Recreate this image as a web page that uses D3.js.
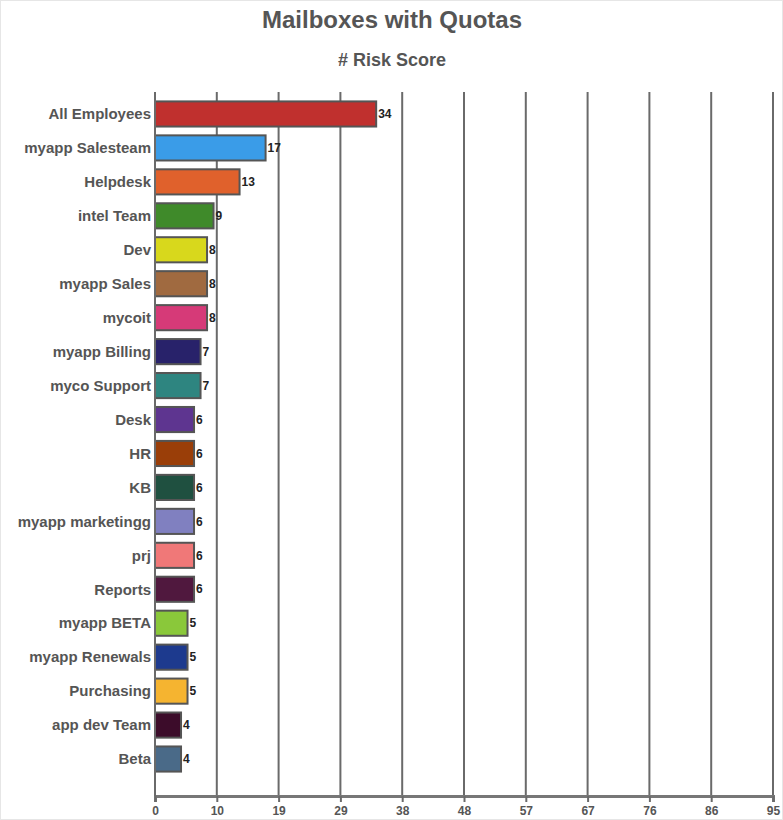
<!DOCTYPE html>
<html>
<head>
<meta charset="utf-8">
<script src="https://cdn.jsdelivr.net/npm/d3@7"></script>
<style>
  body { margin: 0; background: #fff; }
  svg text { font-family: "Liberation Sans", Arial, sans-serif; font-weight: bold; }
</style>
</head>
<body>
<div id="chart"></div>
<script>
var categories = ["All Employees", "myapp Salesteam", "Helpdesk", "intel Team", "Dev", "myapp Sales",
  "mycoit", "myapp Billing", "myco Support", "Desk", "HR", "KB", "myapp marketingg", "prj",
  "Reports", "myapp BETA", "myapp Renewals", "Purchasing", "app dev Team", "Beta"]
var scores = [34, 17, 13, 9, 8, 8, 8, 7, 7, 6, 6, 6, 6, 6, 6, 5, 5, 5, 4, 4]
var barColors = ["#c0302e", "#3a9ce8", "#e0612c", "#3f8a2a", "#d8d81c", "#a06a40", "#d63a78",
  "#28226a", "#2e8580", "#5e3590", "#9a3e08", "#1f5040", "#8080c0", "#f07878", "#50183e",
  "#8ac83a", "#1d3a8e", "#f5b430", "#3c0c2a", "#4a6a88"]
var xTickLabels = ["0", "10", "19", "29", "38", "48", "57", "67", "76", "86", "95"]
var xMax = 95

var width = 783, height = 820
var plotLeft = 155, plotRight = 773, plotTop = 92, plotBottom = 796

var svg = d3.select("#chart").append("svg")
  .attr("width", width)
  .attr("height", height)

svg.append("rect")
  .attr("x", 0.5).attr("y", 0.5)
  .attr("width", width - 1).attr("height", height - 1)
  .attr("fill", "none")
  .attr("stroke", "#e6e6e6")

svg.append("text")
  .attr("x", 392).attr("y", 28)
  .attr("text-anchor", "middle")
  .attr("font-size", 24)
  .attr("fill", "#555")
  .text("Mailboxes with Quotas")

svg.append("text")
  .attr("x", 392).attr("y", 66)
  .attr("text-anchor", "middle")
  .attr("font-size", 18)
  .attr("fill", "#555")
  .text("# Risk Score")

var x = d3.scaleLinear().domain([0, xMax]).range([plotLeft, plotRight])
var y = d3.scaleBand().domain(categories).range([97, 776])
  .paddingInner(0.26).paddingOuter(0.13)

var tickVals = xTickLabels.map((_, i) => i * xMax / (xTickLabels.length - 1))

// vertical grid lines
svg.append("g")
  .selectAll("line")
  .data(tickVals)
  .join("line")
    .attr("x1", d => x(d)).attr("x2", d => x(d))
    .attr("y1", plotTop).attr("y2", plotBottom)
    .attr("stroke", "#6a6a6a")
    .attr("stroke-width", 2)

// x axis
var xAxis = svg.append("g")
  .attr("transform", `translate(0,${plotBottom})`)
  .call(d3.axisBottom(x).tickValues(tickVals).tickSize(6).tickFormat((d, i) => xTickLabels[i]))
xAxis.select(".domain").attr("stroke", "#777").attr("stroke-width", 3)
xAxis.selectAll(".tick line").attr("stroke", "#6a6a6a").attr("stroke-width", 2)
xAxis.selectAll(".tick text")
  .attr("fill", "#555")
  .attr("font-size", 12)
  .attr("y", 10)

// bars
svg.append("g")
  .selectAll("rect")
  .data(categories)
  .join("rect")
    .attr("x", x(0))
    .attr("y", d => y(d))
    .attr("width", (d, i) => x(scores[i]) - x(0))
    .attr("height", y.bandwidth())
    .attr("fill", (d, i) => barColors[i])
    .attr("stroke", "#555")
    .attr("stroke-width", 2)

// category labels
svg.append("g")
  .selectAll("text")
  .data(categories)
  .join("text")
    .attr("x", plotLeft - 4)
    .attr("y", d => y(d) + y.bandwidth() / 2)
    .attr("dy", "0.35em")
    .attr("text-anchor", "end")
    .attr("font-size", 15)
    .attr("fill", "#555")
    .text(d => d)

// value labels
svg.append("g")
  .selectAll("text")
  .data(categories)
  .join("text")
    .attr("x", (d, i) => x(scores[i]) + 2)
    .attr("y", d => y(d) + y.bandwidth() / 2)
    .attr("dy", "0.35em")
    .attr("font-size", 12)
    .attr("fill", "#222")
    .text((d, i) => scores[i])

// left axis line
svg.append("line")
  .attr("x1", plotLeft).attr("x2", plotLeft)
  .attr("y1", plotTop).attr("y2", plotBottom)
  .attr("stroke", "#6a6a6a")
  .attr("stroke-width", 2)
</script>
</body>
</html>
